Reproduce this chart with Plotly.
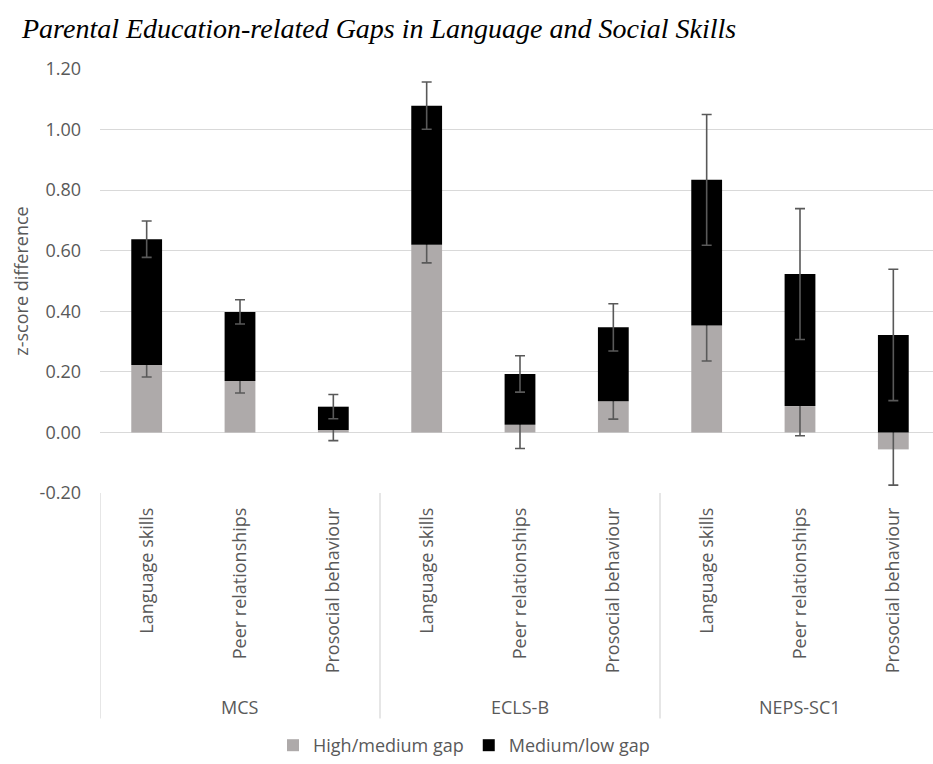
import plotly.graph_objects as go

# ---- data ----
groups = ["MCS", "ECLS-B", "NEPS-SC1"]
outcomes = ["Language skills", "Peer relationships", "Prosocial behaviour"]
series_names = ["High/medium gap", "Medium/low gap"]

high_med = [0.223, 0.170, 0.008, 0.620, 0.025, 0.103, 0.353, 0.087, -0.056]
high_med_err = [0.040, 0.040, 0.035, 0.060, 0.078, 0.059, 0.117, 0.098, 0.118]
med_low = [0.415, 0.228, 0.077, 0.459, 0.168, 0.244, 0.481, 0.436, 0.322]
med_low_err = [0.060, 0.040, 0.040, 0.078, 0.060, 0.078, 0.216, 0.216, 0.217]

y_ticks = [-0.20, 0.00, 0.20, 0.40, 0.60, 0.80, 1.00, 1.20]

categories = [o for g in groups for o in outcomes]
xpos = list(range(len(categories)))

GRAY = "#AEAAAA"
TXT = "#595959"
GRID = "#D9D9D9"
ERR = "#595959"
FONT = "Open Sans"

fig = go.Figure()
fig.add_trace(go.Bar(
    x=xpos, y=high_med, name=series_names[0], marker_color=GRAY,
    marker_line_width=0, width=0.33,
    error_y=dict(type="data", array=high_med_err, visible=True,
                 color=ERR, thickness=1.6, width=5),
))
fig.add_trace(go.Bar(
    x=xpos, y=med_low, name=series_names[1], marker_color="#000000",
    marker_line_width=0, width=0.33,
    error_y=dict(type="data", array=med_low_err, visible=True,
                 color=ERR, thickness=1.6, width=5),
))

n_per = len(outcomes)
shapes = []
for i in range(len(groups) + 1):
    xb = i * n_per - 0.5
    shapes.append(dict(type="line", xref="x", yref="paper",
                       x0=xb, x1=xb, y0=0, y1=-0.532,
                       line=dict(color=GRID, width=1.3)))

annotations = []
for i, g in enumerate(groups):
    annotations.append(dict(text=g, xref="x", yref="paper",
                            x=i * n_per + (n_per - 1) / 2, y=-0.504,
                            showarrow=False, xanchor="center", yanchor="middle",
                            font=dict(family=FONT, size=18, color=TXT)))
annotations.append(dict(
    text="<i>Parental Education-related Gaps in Language and Social Skills</i>",
    xref="paper", yref="paper", x=-0.097, y=1.0, yshift=41, showarrow=False,
    xanchor="left", yanchor="middle",
    font=dict(family="Liberation Serif", size=28, color="#000000")))

fig.update_layout(
    width=933, height=764,
    margin=dict(l=100, r=0, t=69, b=270),
    paper_bgcolor="white", plot_bgcolor="white",
    barmode="relative",
    showlegend=True,
    legend=dict(orientation="h", x=0.437, xanchor="center", y=-0.597,
                yanchor="middle", font=dict(family=FONT, size=18, color=TXT),
                itemwidth=30, traceorder="normal"),
    shapes=shapes,
    annotations=annotations,
    font=dict(family=FONT, color=TXT),
)
fig.update_xaxes(
    range=[-0.5, 8.425], tickmode="array", tickvals=xpos, ticktext=categories,
    tickangle=-90, showgrid=False, zeroline=False, showline=False,
    ticks="", ticklabelstandoff=10,
    tickfont=dict(family=FONT, size=18, color=TXT),
)
fig.update_yaxes(
    range=[-0.2, 1.2], tickmode="array", tickvals=y_ticks,
    ticktext=[f"{v:.2f}" for v in y_ticks],
    showgrid=True, gridcolor=GRID, gridwidth=1.3,
    zeroline=False, showline=False, ticks="", ticklabelstandoff=18,
    tickfont=dict(family=FONT, size=18, color=TXT),
    title=dict(text="z-score difference", standoff=6,
               font=dict(family=FONT, size=18, color=TXT)),
)

fig.write_html("out.html")
